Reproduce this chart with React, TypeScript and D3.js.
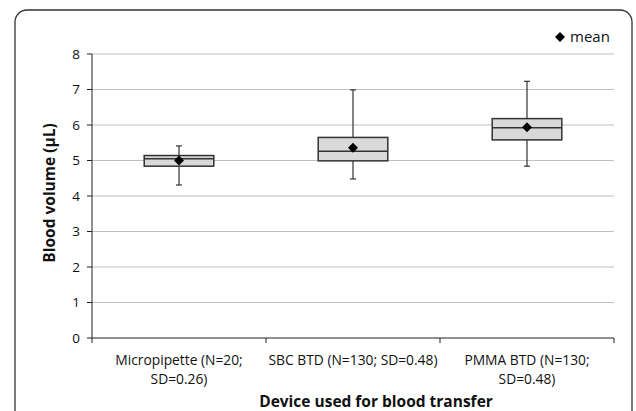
import * as d3 from "d3";

const categories = ["Micropipette (N=20;|SD=0.26)", "SBC BTD (N=130; SD=0.48)", "PMMA BTD (N=130;|SD=0.48)"];
const whiskerLow = [4.31, 4.48, 4.84];
const q1 = [4.84, 4.99, 5.58];
const median = [5.05, 5.26, 5.92];
const q3 = [5.14, 5.65, 6.18];
const whiskerHigh = [5.41, 6.99, 7.23];
const means = [5.0, 5.36, 5.94];
const yTicks = [0, 1, 2, 3, 4, 5, 6, 7, 8];

const W = 636;
const H = 411;
const plot = { left: 92, right: 614, top: 54, bottom: 338 };
const font = "'Open Sans', sans-serif";

export default function App() {
  const x = d3.scaleBand().domain(categories).range([plot.left, plot.right]);
  const y = d3.scaleLinear().domain([0, 8]).range([plot.bottom, plot.top]);
  const boxW = x.bandwidth() * 0.4;
  const capW = 6;
  // square rotated 45deg, like Excel's diamond marker
  const diamond = d3.symbol().type(d3.symbolSquare).size(50)() as string;

  return (
    <svg width={W} height={H} style={{ position: "absolute", left: 0, top: 0, background: "#fff" }}>
      <rect x={15} y={10} width={617} height={420} rx={12} fill="none" stroke="#333" strokeWidth={1.3} />

      {/* gridlines */}
      {yTicks.filter((t) => t > 0).map((t) => (
        <line key={t} x1={plot.left} x2={plot.right} y1={y(t)} y2={y(t)} stroke="#c0c0c0" strokeWidth={1.2} />
      ))}

      {/* y axis */}
      <line x1={plot.left} x2={plot.left} y1={plot.top} y2={plot.bottom} stroke="#222" strokeWidth={1} />
      {yTicks.map((t) => (
        <g key={t}>
          <line x1={plot.left - 5} x2={plot.left} y1={y(t)} y2={y(t)} stroke="#222" />
          <text x={plot.left - 12} y={y(t)} dy="0.35em" textAnchor="end" fontFamily={font} fontSize={13.5} fill="#111">
            {t}
          </text>
        </g>
      ))}

      {/* x axis */}
      <line x1={plot.left} x2={plot.right} y1={plot.bottom} y2={plot.bottom} stroke="#222" strokeWidth={1} />
      {[...categories.map((c) => x(c) as number), plot.right].map((px, i) => (
        <line key={i} x1={px} x2={px} y1={plot.bottom} y2={plot.bottom + 5} stroke="#222" />
      ))}
      {categories.map((c) => {
        const cx = (x(c) as number) + x.bandwidth() / 2;
        return (
          <text key={c} x={cx} y={365} textAnchor="middle" fontFamily={font} fontSize={13.8} fill="#111">
            {c.split("|").map((line, i) => (
              <tspan key={i} x={cx} dy={i === 0 ? 0 : 19}>
                {line}
              </tspan>
            ))}
          </text>
        );
      })}

      {/* boxes */}
      {categories.map((c, i) => {
        const cx = (x(c) as number) + x.bandwidth() / 2;
        return (
          <g key={c} stroke="#333">
            <line x1={cx} x2={cx} y1={y(whiskerLow[i])} y2={y(whiskerHigh[i])} strokeWidth={1.2} />
            <line x1={cx - capW / 2} x2={cx + capW / 2} y1={y(whiskerHigh[i])} y2={y(whiskerHigh[i])} strokeWidth={1.2} />
            <line x1={cx - capW / 2} x2={cx + capW / 2} y1={y(whiskerLow[i])} y2={y(whiskerLow[i])} strokeWidth={1.2} />
            <rect x={cx - boxW / 2} y={y(q3[i])} width={boxW} height={y(q1[i]) - y(q3[i])} fill="#d9d9d9" strokeWidth={1.5} />
            <line x1={cx - boxW / 2} x2={cx + boxW / 2} y1={y(median[i])} y2={y(median[i])} strokeWidth={1.5} />
            <path d={diamond} transform={`translate(${cx},${y(means[i])}) rotate(45)`} fill="#000" stroke="none" />
          </g>
        );
      })}

      {/* legend */}
      <path d={diamond} transform="translate(560,37) rotate(45)" fill="#000" />
      <text x={570} y={37} dy="0.35em" fontFamily={font} fontSize={15} fill="#111">
        mean
      </text>

      {/* axis titles */}
      <text x={376} y={402} dy="0.35em" textAnchor="middle" fontFamily={font} fontSize={15.5} fontWeight="bold" fill="#111">
        Device used for blood transfer
      </text>
      <text
        transform="translate(50,193) rotate(-90)"
        dy="0.35em"
        textAnchor="middle"
        fontFamily={font}
        fontSize={15.5}
        fontWeight="bold"
        fill="#111"
      >
        Blood volume (µL)
      </text>
    </svg>
  );
}
